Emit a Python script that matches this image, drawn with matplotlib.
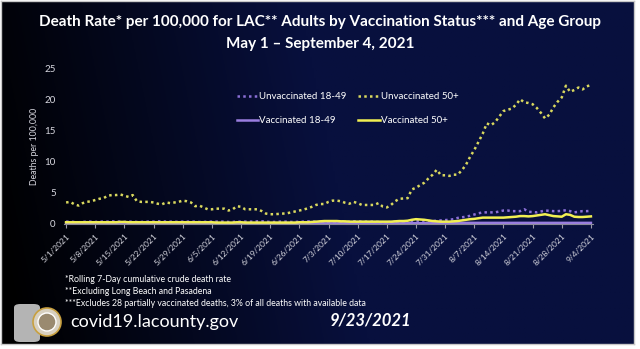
import matplotlib.pyplot as plt
import matplotlib.patches as mpatches
import numpy as np
import pandas as pd

plt.rcParams["font.family"] = ["Lato", "DejaVu Sans"]

# daily values, 5/1/2021 .. 9/4/2021 (deaths per 100,000, rolling 7-day)
dates = pd.date_range("2021-05-01", "2021-09-04", freq="D")

unvax_50 = [
    3.4, 3.5, 3.1, 2.9, 3.3, 3.5, 3.6, 3.8, 4.0, 4.1,
    4.5, 4.6, 4.6, 4.7, 4.5, 4.3, 4.6, 3.6, 3.5, 3.5,
    3.5, 3.4, 3.2, 3.1, 3.4, 3.3, 3.4, 3.5, 3.7, 3.6,
    3.4, 2.8, 2.9, 2.6, 2.3, 2.3, 2.4, 2.4, 2.4, 2.1,
    2.3, 2.8, 2.7, 2.3, 2.3, 2.3, 2.3, 2.0, 1.6, 1.5,
    1.5, 1.55, 1.6, 1.65, 1.8, 1.95, 2.1, 2.25, 2.45, 2.7,
    3.0, 3.15, 3.15, 3.5, 3.7, 3.7, 3.6, 3.35, 3.2, 3.5,
    3.3, 3.0, 3.0, 3.0, 3.0, 3.3, 2.75, 2.6, 3.0, 3.6,
    4.0, 4.05, 4.1, 5.5, 5.8, 6.2, 6.6, 7.3, 7.9, 8.7,
    7.8, 7.8, 7.7, 7.9, 7.9, 8.6, 9.5, 10.8, 11.9, 13.2,
    14.5, 16.2, 15.9, 16.4, 17.3, 18.2, 18.4, 18.6, 19.2, 20.1,
    19.6, 19.5, 19.3, 18.7, 17.9, 17.0, 17.6, 18.8, 19.7, 20.4,
    22.3, 21.3, 21.6, 22.0, 21.7, 22.2, 22.4,
]

unvax_18 = [
    0.3, 0.3, 0.25, 0.2, 0.25, 0.3, 0.3, 0.25, 0.3, 0.3,
    0.3, 0.35, 0.3, 0.3, 0.25, 0.3, 0.3, 0.25, 0.25, 0.3,
    0.3, 0.3, 0.35, 0.35, 0.3, 0.3, 0.3, 0.25, 0.3, 0.3,
    0.3, 0.3, 0.25, 0.25, 0.3, 0.3, 0.3, 0.3, 0.3, 0.25,
    0.25, 0.3, 0.3, 0.3, 0.3, 0.3, 0.35, 0.35, 0.3, 0.25,
    0.25, 0.3, 0.3, 0.3, 0.25, 0.25, 0.3, 0.3, 0.35, 0.3,
    0.3, 0.3, 0.3, 0.25, 0.25, 0.3, 0.3, 0.3, 0.3, 0.35,
    0.35, 0.3, 0.3, 0.3, 0.3, 0.25, 0.2, 0.2, 0.25, 0.3,
    0.3, 0.35, 0.35, 0.4, 0.4, 0.45, 0.45, 0.4, 0.4, 0.45,
    0.5, 0.55, 0.6, 0.7, 0.9, 1.0, 1.1, 1.25, 1.45, 1.65,
    1.8, 1.8, 1.8, 1.8, 1.95, 2.1, 2.1, 2.0, 2.0, 2.0,
    2.3, 1.9, 1.85, 1.8, 1.95, 2.1, 2.05, 2.0, 2.0, 2.05,
    2.15, 2.0, 1.8, 1.9, 2.0, 2.0, 2.05,
]

vax_50 = [
    0.2, 0.2, 0.2, 0.2, 0.2, 0.2, 0.2, 0.2, 0.2, 0.2,
    0.2, 0.2, 0.2, 0.25, 0.25, 0.2, 0.2, 0.2, 0.2, 0.2,
    0.2, 0.2, 0.2, 0.2, 0.2, 0.2, 0.2, 0.2, 0.2, 0.2,
    0.2, 0.2, 0.2, 0.2, 0.2, 0.2, 0.15, 0.15, 0.15, 0.15,
    0.15, 0.2, 0.2, 0.15, 0.15, 0.15, 0.15, 0.15, 0.15, 0.15,
    0.15, 0.15, 0.15, 0.15, 0.15, 0.15, 0.2, 0.2, 0.2, 0.25,
    0.3, 0.35, 0.4, 0.4, 0.4, 0.4, 0.35, 0.35, 0.3, 0.3,
    0.3, 0.3, 0.3, 0.3, 0.3, 0.3, 0.3, 0.3, 0.3, 0.35,
    0.4, 0.4, 0.45, 0.6, 0.7, 0.65, 0.6, 0.5, 0.4, 0.35,
    0.3, 0.3, 0.3, 0.35, 0.4, 0.5, 0.6, 0.7, 0.75, 0.85,
    0.95, 0.95, 0.95, 0.95, 0.95, 0.95, 1.0, 1.05, 1.1, 1.2,
    1.2, 1.15, 1.2, 1.3, 1.4, 1.5, 1.35, 1.2, 1.15, 1.1,
    1.5, 1.4, 1.1, 1.05, 1.05, 1.1, 1.15,
]

vax_18 = [
    0.05, 0.05, 0.05, 0.05, 0.05, 0.05, 0.05, 0.05, 0.05, 0.05,
    0.05, 0.05, 0.05, 0.05, 0.05, 0.05, 0.05, 0.05, 0.05, 0.05,
    0.05, 0.05, 0.05, 0.05, 0.05, 0.05, 0.05, 0.05, 0.05, 0.05,
    0.05, 0.05, 0.05, 0.05, 0.05, 0.05, 0.05, 0.05, 0.05, 0.05,
    0.05, 0.05, 0.05, 0.05, 0.05, 0.05, 0.05, 0.05, 0.05, 0.05,
    0.05, 0.05, 0.05, 0.05, 0.05, 0.05, 0.05, 0.05, 0.05, 0.05,
    0.05, 0.05, 0.05, 0.05, 0.05, 0.05, 0.05, 0.05, 0.05, 0.05,
    0.05, 0.05, 0.05, 0.05, 0.05, 0.05, 0.05, 0.05, 0.05, 0.05,
    0.05, 0.05, 0.05, 0.05, 0.05, 0.05, 0.05, 0.05, 0.05, 0.05,
    0.05, 0.05, 0.05, 0.05, 0.05, 0.1, 0.1, 0.1, 0.1, 0.1,
    0.1, 0.1, 0.1, 0.1, 0.1, 0.1, 0.1, 0.1, 0.1, 0.1,
    0.1, 0.1, 0.1, 0.1, 0.1, 0.1, 0.1, 0.1, 0.1, 0.1,
    0.1, 0.1, 0.1, 0.1, 0.1, 0.1, 0.1,
]

tick_dates = pd.date_range("2021-05-01", "2021-09-04", freq="7D")
tick_labels = [f"{d.month}/{d.day}/{d.year}" for d in tick_dates]

title_1 = "Death Rate* per 100,000 for LAC** Adults by Vaccination Status*** and Age Group"
title_2 = "May 1 \u2013 September 4, 2021"
notes = [
    "*Rolling 7-Day cumulative crude death rate",
    "**Excluding Long Beach and Pasadena",
    "***Excludes 28 partially vaccinated deaths, 3% of all deaths with available data",
]

W, H = 640, 349
fig = plt.figure(figsize=(W / 100, H / 100), dpi=100, facecolor="white")

# slide background: black on the left fading to navy
bg = fig.add_axes([1 / W, 5 / H, 633 / W, 343 / H])
gx = np.linspace(0, 1, 300)
gy = np.linspace(0, 1, 150)
X, Y = np.meshgrid(gx, gy)
t = np.clip((X - 0.03) / 0.55 + 0.2 * Y, 0, 1)
navy = np.array([8, 16, 62]) / 255
img = t[..., None] * navy
bg.imshow(img, aspect="auto", extent=[0, 1, 0, 1], origin="lower")
bg.set_xlim(0, 1)
bg.set_ylim(0, 1)
for s in bg.spines.values():
    s.set_color("#c8c8c8")
    s.set_linewidth(1)
bg.set_xticks([])
bg.set_yticks([])

fig.text(0.5, 1 - 22 / H, title_1, color="white", fontsize=11, fontweight="bold",
         ha="center", va="center")
fig.text(0.5, 1 - 44 / H, title_2, color="white", fontsize=11, fontweight="bold",
         ha="center", va="center")

ax = fig.add_axes([64 / W, 1 - 223.5 / H, 529 / W, 154.5 / H])
ax.patch.set_alpha(0)

ax.plot(dates, unvax_18, color="#8a6fd6", lw=1.8, ls=(0, (1, 1.3)), label="Unvaccinated 18-49", zorder=3)
ax.plot(dates, vax_18, color="#9a7ee0", lw=1.8, label="Vaccinated 18-49", zorder=2)
ax.plot(dates, unvax_50, color="#d9d85e", lw=1.8, ls=(0, (1, 1.3)), label="Unvaccinated 50+", zorder=5)
ax.plot(dates, vax_50, color="#f2f052", lw=1.8, label="Vaccinated 50+", zorder=4)

ax.set_xlim(dates[0] - pd.Timedelta(hours=12), dates[-1] + pd.Timedelta(hours=12))
ax.set_ylim(0, 25)
ax.set_yticks([0, 5, 10, 15, 20, 25])
ax.set_xticks(tick_dates)
ax.set_xticklabels(tick_labels, rotation=45, ha="right", rotation_mode="anchor")
ax.tick_params(axis="x", colors="#9a9aa8", labelcolor="#d8d8e0", labelsize=6, length=3, width=0.8)
ax.tick_params(axis="y", length=0, labelcolor="#d8d8e0", labelsize=7, pad=6)
for side in ["top", "right", "left"]:
    ax.spines[side].set_visible(False)
ax.spines["bottom"].set_color("#8a8a98")
ax.spines["bottom"].set_linewidth(0.8)
ax.set_ylabel("Deaths per 100,000", color="#d8d8e0", fontsize=6.3, labelpad=4)

leg = ax.legend(ncol=2, loc="upper left", bbox_to_anchor=(0.31, 0.905), frameon=False,
                fontsize=7, labelcolor="white", handlelength=2.2, handletextpad=0.1,
                labelspacing=1.55, columnspacing=1.2)

for i, note in enumerate(notes):
    fig.text(65 / W, 1 - (279 + 12 * i) / H, note, color="white", fontsize=6.3,
             ha="left", va="center")

fig.text(70 / W, 1 - 322 / H, "covid19.lacounty.gov", color="white", fontsize=13,
         ha="left", va="center")
fig.text(330 / W, 1 - 321 / H, "9/23/2021", color="white", fontsize=12,
         fontweight="bold", style="italic", ha="left", va="center")

# county seal placeholder
fig.patches.append(mpatches.FancyBboxPatch((14 / W, 1 - 342 / H), 26 / W, 38 / H,
                                           boxstyle="round,pad=0,rounding_size=0.01",
                                           transform=fig.transFigure, facecolor="#b4b4b4",
                                           edgecolor="none"))
fig.patches.append(mpatches.Ellipse((47 / W, 1 - 322 / H), 28 / W, 28 / H,
                                    transform=fig.transFigure, facecolor="#d8d0c0",
                                    edgecolor="#c8a040", lw=1.2))
fig.patches.append(mpatches.Ellipse((47 / W, 1 - 322 / H), 18 / W, 18 / H,
                                    transform=fig.transFigure, facecolor="#9a8a70",
                                    edgecolor="white", lw=1))

fig.savefig("out.png", dpi=100, facecolor="white")
